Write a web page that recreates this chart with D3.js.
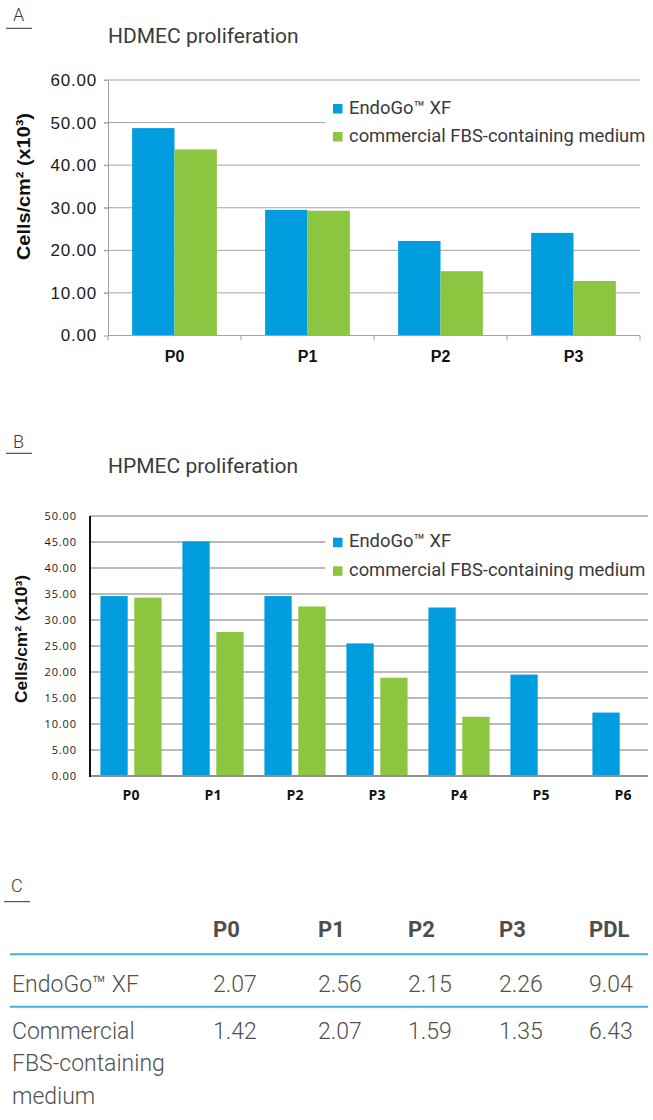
<!DOCTYPE html>
<html>
<head>
<meta charset="utf-8">
<script src="https://cdn.jsdelivr.net/npm/d3@7"></script>
<style>
body { margin: 0; background: #fff; }
svg { display: block; }
.din { font-family: Roboto, "Open Sans", sans-serif; fill: #3a3a3a; }
</style>
</head>
<body>
<script>
// chart A - HDMEC
var passagesA = ['P0', 'P1', 'P2', 'P3'];
var endogoA = [48.7, 29.5, 22.2, 24.1];
var fbsA = [43.7, 29.3, 15.1, 12.8];
var ticksA = [0, 10, 20, 30, 40, 50, 60];

// chart B - HPMEC
var passagesB = ['P0', 'P1', 'P2', 'P3', 'P4', 'P5', 'P6'];
var endogoB = [34.6, 45.1, 34.6, 25.5, 32.4, 19.5, 12.2];
var fbsB = [34.3, 27.7, 32.6, 18.9, 11.4, null, null];
var ticksB = [0, 5, 10, 15, 20, 25, 30, 35, 40, 45, 50];

var seriesNames = ['EndoGo\u2122 XF', 'commercial FBS-containing medium'];
var seriesColors = ['#019ddf', '#8cc540'];

// table C - population doublings
var tableCols = ['P0', 'P1', 'P2', 'P3', 'PDL'];
var rowNames = [['EndoGo\u2122 XF'], ['Commercial', 'FBS-containing', 'medium']];
var pdlEndogo = ['2.07', '2.56', '2.15', '2.26', '9.04'];
var pdlFbs = ['1.42', '2.07', '1.59', '1.35', '6.43'];

var svg = d3.select('body').append('svg')
    .attr('width', 653)
    .attr('height', 1120);

function panelLetter(letter, x, y, lineY, x0, x1) {
    svg.append('text').attr('class', 'din')
        .attr('x', x).attr('y', y)
        .style('font-size', '18px')
        .style('font-weight', 300)
        .text(letter);
    svg.append('line')
        .attr('x1', x0).attr('x2', x1)
        .attr('y1', lineY).attr('y2', lineY)
        .attr('stroke', '#333').attr('stroke-width', 1);
}

function title(txt, y) {
    svg.append('text').attr('class', 'din')
        .attr('x', 108).attr('y', y)
        .style('font-size', '21px')
        .text(txt);
}

function bars(g, cats, a, b, x, x1, y, h) {
    g.selectAll('g.grp')
        .data(cats)
        .enter()
        .append('g')
        .attr('class', 'grp')
        .attr('transform', function (d) { return 'translate(' + x(d) + ',0)'; })
        .selectAll('rect')
        .data(function (d, i) {
            return [a[i], b[i]].map(function (v, s) { return {v: v, s: s}; })
                .filter(function (e) { return e.v != null; });
        })
        .enter()
        .append('rect')
        .attr('x', function (e) { return x1(e.s); })
        .attr('width', x1.bandwidth())
        .attr('y', function (e) { return y(e.v); })
        .attr('height', function (e) { return h - y(e.v); })
        .attr('fill', function (e) { return seriesColors[e.s]; });
}

function legend(top, step) {
    svg.append('rect')
        .attr('x', 325).attr('y', top - 11)
        .attr('width', 330).attr('height', step * 2 + 4)
        .attr('fill', '#fff');
    var lg = svg.append('g').attr('transform', 'translate(333,' + top + ')');
    var row = lg.selectAll('g').data(seriesNames).enter().append('g')
        .attr('transform', function (d, i) { return 'translate(0,' + (i * step) + ')'; });
    row.append('rect')
        .attr('width', 9.5).attr('height', 9.5)
        .attr('fill', function (d, i) { return seriesColors[i]; });
    row.append('text').attr('class', 'din')
        .attr('x', 16).attr('y', 9.5)
        .style('font-size', '18.4px')
        .text(function (d) { return d; });
}

function yLabel(x, y, size, len) {
    svg.append('text')
        .attr('transform', 'translate(' + x + ',' + y + ') rotate(-90)')
        .attr('text-anchor', 'middle')
        .attr('textLength', len)
        .attr('lengthAdjust', 'spacingAndGlyphs')
        .style('font-family', '"Liberation Sans", Arial, sans-serif')
        .style('font-weight', 'bold')
        .style('font-size', size + 'px')
        .style('fill', '#111')
        .text('Cells/cm\u00b2 (x10\u00b3)');
}

// ---------- A ----------
panelLetter('A', 13, 20.5, 28.3, 6, 32);
title('HDMEC proliferation', 42.7);

var wA = 532, hA = 255.5;
var gA = svg.append('g').attr('transform', 'translate(108,80)');
var xA = d3.scaleBand().domain(passagesA).range([0, wA]);
var x1A = d3.scaleBand().domain([0, 1]).range([0, xA.bandwidth()]).paddingOuter(0.57);
var yA = d3.scaleLinear().domain([0, 60]).range([hA, 0]);

gA.append('g').selectAll('line').data(ticksA.slice(1)).enter().append('line')
    .attr('x1', -4).attr('x2', wA)
    .attr('y1', function (d) { return yA(d); })
    .attr('y2', function (d) { return yA(d); })
    .attr('stroke', '#a3a3a3').attr('stroke-width', 1);

bars(gA, passagesA, endogoA, fbsA, xA, x1A, yA, hA);

var axA = gA.append('g')
    .call(d3.axisLeft(yA).tickValues(ticksA).tickSize(4).tickSizeOuter(0).tickPadding(7)
        .tickFormat(d3.format('.2f')));
axA.selectAll('line, path').attr('stroke', '#a3a3a3');
axA.selectAll('text')
    .style('font-family', '"Liberation Sans", Arial, sans-serif')
    .style('font-size', '17px')
    .style('letter-spacing', '0.8px')
    .style('fill', '#1a1a1a');

gA.append('line').attr('x1', 0).attr('x2', wA).attr('y1', hA).attr('y2', hA)
    .attr('stroke', '#a3a3a3');
gA.append('g').selectAll('line').data(passagesA.concat(['end'])).enter().append('line')
    .attr('x1', function (d) { return d === 'end' ? wA : xA(d); })
    .attr('x2', function (d) { return d === 'end' ? wA : xA(d); })
    .attr('y1', hA).attr('y2', hA + 5)
    .attr('stroke', '#a3a3a3');

var xaxA = gA.append('g').attr('transform', 'translate(0,' + hA + ')')
    .call(d3.axisBottom(xA).tickSize(0).tickPadding(15));
xaxA.select('.domain').remove();
xaxA.selectAll('text')
    .style('font-family', '"Liberation Sans", Arial, sans-serif')
    .style('font-weight', 'bold')
    .style('font-size', '16px')
    .style('fill', '#111');

legend(104, 28);
yLabel(29.5, 186.5, 19, 147);

// ---------- B ----------
panelLetter('B', 13, 448, 453.3, 6, 32);
title('HPMEC proliferation', 473.3);

var wB = 558, hB = 260;
var gB = svg.append('g').attr('transform', 'translate(90,516)');
var xB = d3.scaleBand().domain(passagesB).range([0, 574]);
var x1B = d3.scaleBand().domain([0, 1]).range([0, xB.bandwidth()])
    .paddingInner(0.195).paddingOuter(0.307);
var yB = d3.scaleLinear().domain([0, 50]).range([hB, 0]);

gB.append('g').selectAll('line').data(ticksB.slice(1)).enter().append('line')
    .attr('x1', 0).attr('x2', wB)
    .attr('y1', function (d) { return yB(d); })
    .attr('y2', function (d) { return yB(d); })
    .attr('stroke', '#a3a3a3').attr('stroke-width', 1.6);

bars(gB, passagesB, endogoB, fbsB, xB, x1B, yB, hB);

var axB = gB.append('g')
    .call(d3.axisLeft(yB).tickValues(ticksB).tickSize(0).tickPadding(13)
        .tickFormat(d3.format('.2f')));
axB.select('.domain').remove();
axB.selectAll('text')
    .style('font-family', '"Open Sans", sans-serif')
    .style('font-size', '11px')
    .style('letter-spacing', '0.9px')
    .style('fill', '#1a1a1a');

gB.append('line').attr('x1', 0).attr('x2', wB).attr('y1', hB).attr('y2', hB)
    .attr('stroke', '#8f8f8f').attr('stroke-width', 2);
gB.append('line').attr('x1', 0).attr('x2', 0).attr('y1', 0).attr('y2', hB + 1)
    .attr('stroke', '#111').attr('stroke-width', 2);

var xaxB = gB.append('g').attr('transform', 'translate(0,' + hB + ')')
    .call(d3.axisBottom(xB).tickSize(0).tickPadding(14));
xaxB.select('.domain').remove();
xaxB.selectAll('text')
    .style('font-family', '"Open Sans", sans-serif')
    .style('font-weight', 'bold')
    .style('font-size', '14px')
    .style('fill', '#111');

legend(537.7, 28.6);
yLabel(26.5, 639, 16, 128);

// ---------- C ----------
panelLetter('C', 11, 892, 901.7, 4, 30);

var colX = d3.scaleOrdinal().domain(tableCols).range([213, 318, 408, 499, 589]);
var tbl = svg.append('g');

tbl.selectAll('text.head').data(tableCols).enter().append('text')
    .attr('class', 'din head')
    .attr('x', function (d) { return colX(d); })
    .attr('y', 937)
    .style('font-size', '22px')
    .style('font-weight', 'bold')
    .style('fill', '#4d4d4d')
    .text(function (d) { return d; });

tbl.selectAll('line').data([954.3, 1006.7]).enter().append('line')
    .attr('x1', 10).attr('x2', 648)
    .attr('y1', function (d) { return d; })
    .attr('y2', function (d) { return d; })
    .attr('stroke', '#3db2da').attr('stroke-width', 2);

var rowBase = [991.7, 1039];
[pdlEndogo, pdlFbs].forEach(function (vals, r) {
    tbl.append('g').selectAll('text').data(rowNames[r]).enter().append('text')
        .attr('class', 'din')
        .attr('x', 12)
        .attr('y', function (d, i) { return rowBase[r] + i * 32.3; })
        .style('font-size', '23px')
        .style('font-weight', 300)
        .style('fill', '#505050')
        .text(function (d) { return d; });
    tbl.append('g').selectAll('text').data(vals).enter().append('text')
        .attr('class', 'din')
        .attr('x', function (d, i) { return colX(tableCols[i]); })
        .attr('y', rowBase[r])
        .style('font-size', '23px')
        .style('font-weight', 300)
        .style('fill', '#505050')
        .text(function (d) { return d; });
});
</script>
</body>
</html>
